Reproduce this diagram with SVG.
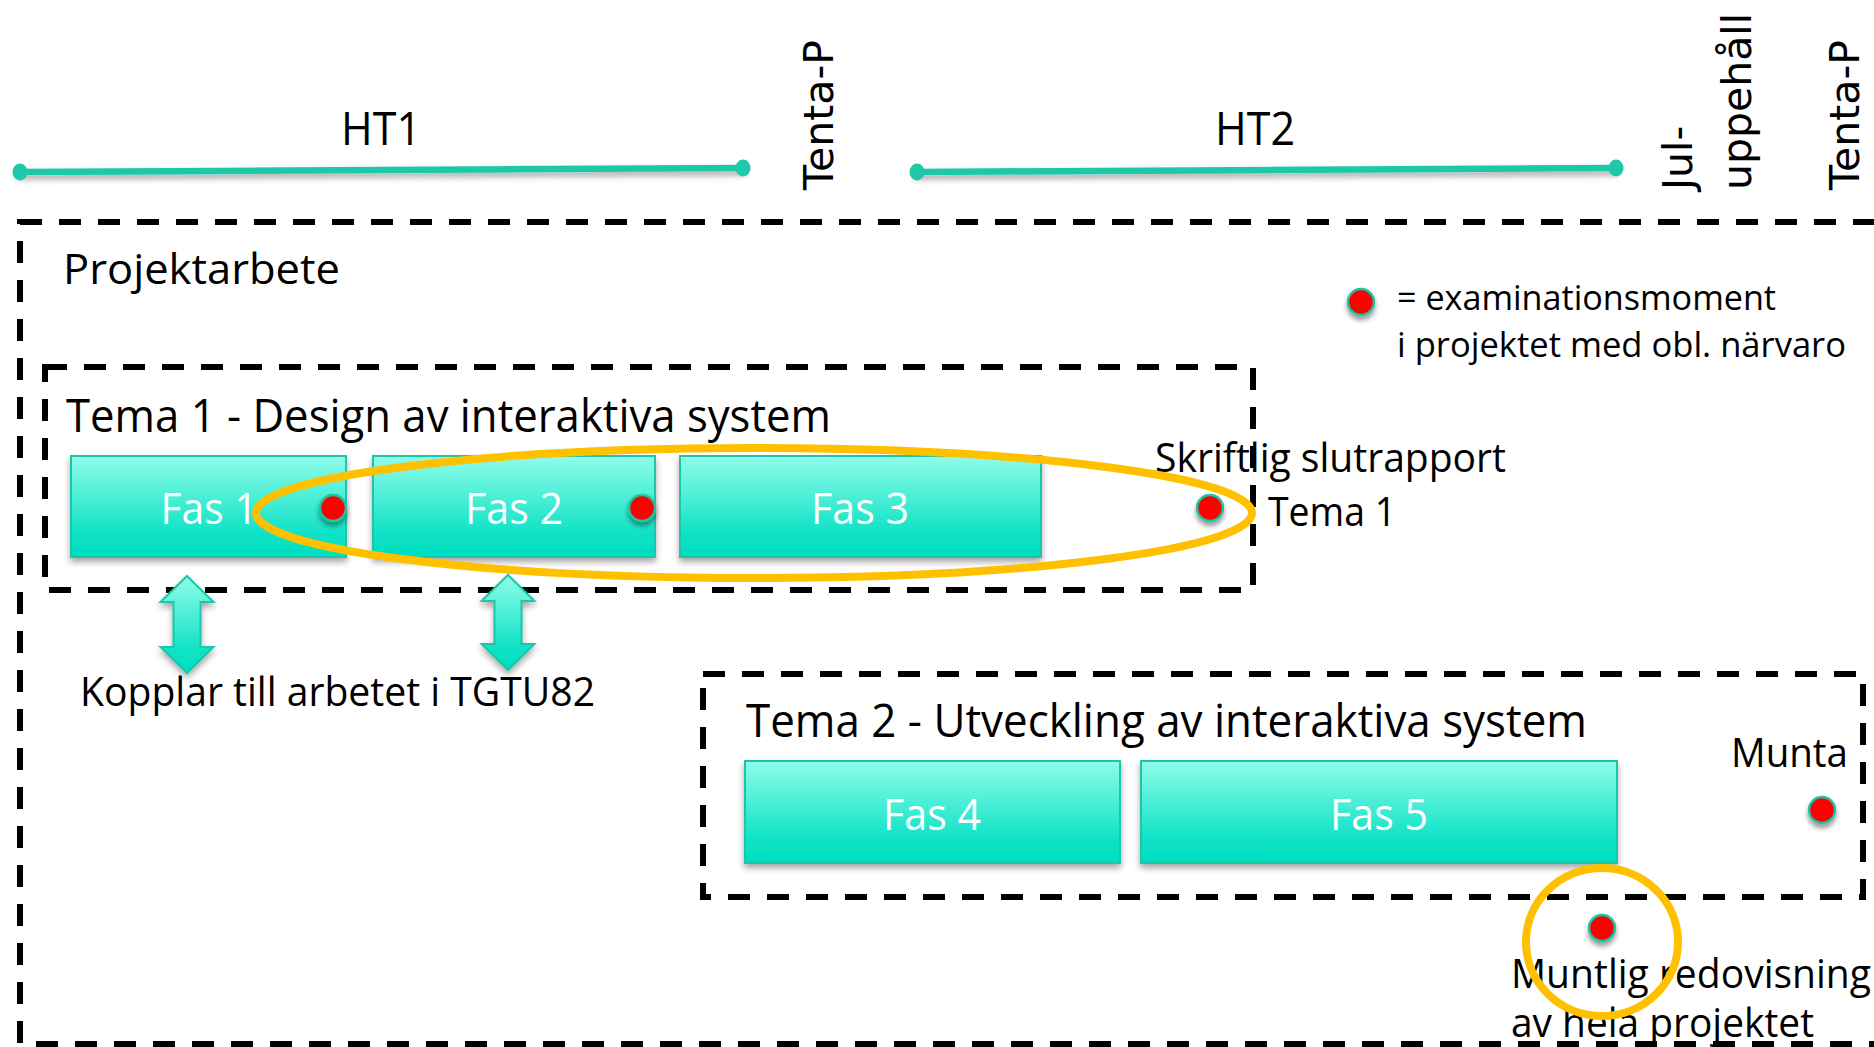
<svg xmlns="http://www.w3.org/2000/svg" width="1874" height="1047" viewBox="0 0 1874 1047">
<defs>
  <linearGradient id="aqua" x1="0" y1="0" x2="0" y2="1">
    <stop offset="0" stop-color="#8FFCE9"/>
    <stop offset="0.78" stop-color="#0CE2C5"/>
    <stop offset="1" stop-color="#00DEC0"/>
  </linearGradient>
  <filter id="shadow" filterUnits="userSpaceOnUse" x="0" y="0" width="1874" height="1047">
    <feDropShadow dx="0" dy="4" stdDeviation="3" flood-color="#000" flood-opacity="0.35"/>
  </filter>
  <filter id="dotshadow" filterUnits="userSpaceOnUse" x="0" y="0" width="1874" height="1047">
    <feDropShadow dx="0" dy="4" stdDeviation="2.5" flood-color="#000" flood-opacity="0.4"/>
  </filter>
  <style>
    .t { font-family: "Open Sans", "Noto Sans", "DejaVu Sans", sans-serif; fill: #000; }
    .rot { font-family: "DejaVu Sans", "Open Sans", sans-serif; font-size: 41px; fill: #000; }
    .dash { fill: none; stroke: #000; stroke-width: 6; stroke-dasharray: 22 17; }
    .fas { fill: url(#aqua); stroke: #1AC6A6; stroke-width: 2; filter: url(#shadow); }
    .fastxt { font-family: "Open Sans", "Noto Sans", sans-serif; fill: #fff; font-size: 43px; text-anchor: middle; }
    .dot { fill: #FF0000; stroke: #1DC4A4; stroke-width: 2.5; filter: url(#dotshadow); }
    .ring { fill: none; stroke: #FFC000; stroke-width: 8; }
    .tl { stroke: #1FC8A8; stroke-width: 6.5; stroke-linecap: round; filter: url(#shadow); }
    .tlend { fill: #1FC8A8; }
    .arrow { fill: url(#aqua); stroke: #1AC6A6; stroke-width: 2; filter: url(#shadow); }
  </style>
</defs>

<g id="timeline">
  <g class="tl">
    <line x1="20" y1="172" x2="743" y2="168"/>
    <line x1="917" y1="172" x2="1616" y2="168"/>
  </g>
  <ellipse class="tlend" cx="20" cy="172" rx="7.5" ry="8.5"/>
  <ellipse class="tlend" cx="743" cy="168" rx="7.5" ry="8.5"/>
  <ellipse class="tlend" cx="917" cy="172" rx="7.5" ry="8.5"/>
  <ellipse class="tlend" cx="1616" cy="168" rx="7.5" ry="8.5"/>
  <text class="t" x="381" y="145" font-size="45" text-anchor="middle" textLength="80" lengthAdjust="spacingAndGlyphs">HT1</text>
  <text class="t" x="1255" y="145" font-size="45" text-anchor="middle" textLength="80" lengthAdjust="spacingAndGlyphs">HT2</text>
  <text class="rot" transform="translate(833,190) rotate(-90)">Tenta-P</text>
  <text class="rot" transform="translate(1692,190) rotate(-90)">Jul-</text>
  <text class="rot" transform="translate(1751,190) rotate(-90)">uppehåll</text>
  <text class="rot" transform="translate(1859,190) rotate(-90)">Tenta-P</text>
</g>

<g id="projektarbete">
  <rect class="dash" x="20" y="222" width="1870" height="822"/>
  <text class="t" x="63" y="284" font-size="42" textLength="277" lengthAdjust="spacingAndGlyphs">Projektarbete</text>
</g>

<g id="legend">
  <circle class="dot" cx="1361" cy="302" r="13"/>
  <text class="t" x="1397" y="310" font-size="35" textLength="379" lengthAdjust="spacingAndGlyphs">= examinationsmoment</text>
  <text class="t" x="1397" y="357" font-size="35" textLength="449" lengthAdjust="spacingAndGlyphs">i projektet med obl. närvaro</text>
</g>

<g id="slutrapport">
  <text class="t" x="1155" y="472" font-size="40" textLength="351" lengthAdjust="spacingAndGlyphs">Skriftlig slutrapport</text>
  <text class="t" x="1268" y="526" font-size="40" textLength="128" lengthAdjust="spacingAndGlyphs">Tema 1</text>
  <circle class="dot" cx="1210" cy="508" r="13"/>
</g>

<g id="tema1">
  <rect class="dash" x="45" y="367" width="1208" height="223"/>
  <text class="t" x="66" y="432" font-size="45" textLength="765" lengthAdjust="spacingAndGlyphs">Tema 1 - Design av interaktiva system</text>
</g>

<g id="fas1">
  <rect class="fas" x="71" y="456" width="275" height="101"/>
  <text class="fastxt" x="209" y="524" textLength="97" lengthAdjust="spacingAndGlyphs">Fas 1</text>
  <circle class="dot" cx="333" cy="508" r="13"/>
</g>
<g id="fas2">
  <rect class="fas" x="373" y="456" width="282" height="101"/>
  <text class="fastxt" x="514" y="524" textLength="98" lengthAdjust="spacingAndGlyphs">Fas 2</text>
  <circle class="dot" cx="642" cy="508" r="13"/>
</g>
<g id="fas3">
  <rect class="fas" x="680" y="456" width="361" height="101"/>
  <text class="fastxt" x="860" y="524" textLength="98" lengthAdjust="spacingAndGlyphs">Fas 3</text>
</g>

<g id="fokus-tema1">
  <ellipse class="ring" cx="754" cy="513" rx="498" ry="65" stroke-width="7"/>
</g>

<g id="tema2">
  <rect class="dash" x="703" y="674" width="1160" height="223"/>
  <text class="t" x="746" y="737" font-size="45" textLength="841" lengthAdjust="spacingAndGlyphs">Tema 2 - Utveckling av interaktiva system</text>
  <text class="t" x="1731" y="767" font-size="40" textLength="117" lengthAdjust="spacingAndGlyphs">Munta</text>
  <circle class="dot" cx="1822" cy="810" r="13"/>
</g>
<g id="fas4">
  <rect class="fas" x="745" y="761" width="375" height="102"/>
  <text class="fastxt" x="932" y="830" textLength="98" lengthAdjust="spacingAndGlyphs">Fas 4</text>
</g>
<g id="fas5">
  <rect class="fas" x="1141" y="761" width="476" height="102"/>
  <text class="fastxt" x="1379" y="830" textLength="98" lengthAdjust="spacingAndGlyphs">Fas 5</text>
</g>

<g id="muntlig">
  <circle class="dot" cx="1602" cy="928" r="13"/>
  <text class="t" x="1511" y="988" font-size="40" textLength="360" lengthAdjust="spacingAndGlyphs">Muntlig redovisning</text>
  <text class="t" x="1511" y="1037" font-size="40" textLength="303" lengthAdjust="spacingAndGlyphs">av hela projektet</text>
  <ellipse class="ring" cx="1602" cy="942" rx="76" ry="74"/>
</g>

<g id="koppling">
  <text class="t" x="80" y="706" font-size="40" textLength="515" lengthAdjust="spacingAndGlyphs">Kopplar till arbetet i TGTU82</text>
</g>

<g id="connectors">
  <path class="arrow" d="M187,576 L213.5,602 L200.5,602 L200.5,647 L213.5,647 L187,673 L160.5,647 L173.5,647 L173.5,602 L160.5,602 Z"/>
  <path class="arrow" d="M508,575 L534.5,601 L521.5,601 L521.5,644 L534.5,644 L508,670 L481.5,644 L494.5,644 L494.5,601 L481.5,601 Z"/>
</g>
</svg>
